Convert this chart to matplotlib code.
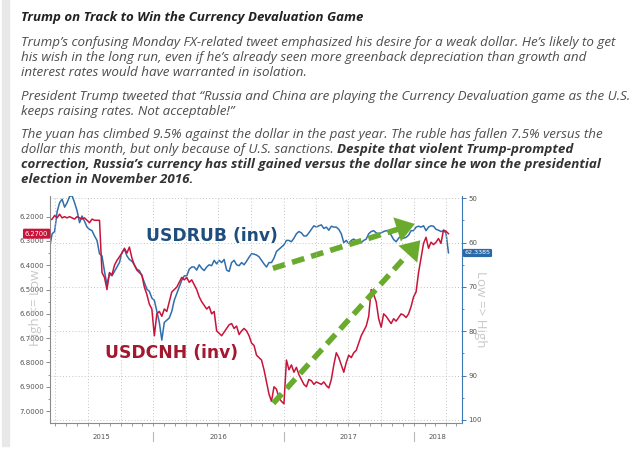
import matplotlib
matplotlib.use("Agg")
import matplotlib.pyplot as plt
import matplotlib.dates as mdates
import matplotlib.transforms as mtransforms
from matplotlib.patches import Rectangle
import numpy as np
import pandas as pd

# weekly closes (Mondays from 2015-03-16)
week_start = "2015-03-16"
n_weeks = 161

usdrub = [
    61.0, 58.0, 57.5, 53.0, 51.0, 50.2, 52.0, 51.0, 49.6, 49.4,
    51.0, 52.8, 55.5, 54.0, 55.2, 56.5, 57.0, 57.3, 58.5, 59.5,
    62.5, 63.0, 66.5, 69.5, 67.0, 67.5, 66.5, 65.5, 64.5, 62.2,
    61.5, 63.0, 63.8, 64.2, 65.0, 66.0, 66.3, 67.5, 69.0, 70.5,
    71.0, 72.5, 73.0, 75.5, 78.0, 82.0, 78.0, 77.5, 77.0, 75.5,
    73.0, 71.5, 70.0, 68.5, 67.5, 67.5, 66.0, 65.5, 65.5, 66.2,
    65.0, 65.8, 66.3, 65.5, 65.0, 65.2, 64.0, 64.8, 64.0, 64.5,
    63.8, 66.2, 66.5, 64.5, 64.0, 65.0, 65.2, 64.5, 65.0, 64.2,
    63.3, 62.5, 62.6, 62.8, 63.2, 64.0, 64.8, 65.5, 64.5, 64.5,
    63.5, 62.0, 61.5, 61.0, 60.5, 59.5, 59.5, 59.8, 59.0, 58.0,
    57.5, 57.8, 58.5, 58.5, 57.8, 57.0, 56.2, 56.5, 56.2, 56.0,
    56.8, 56.5, 57.2, 56.3, 56.5, 56.5, 57.0, 58.0, 60.0, 59.5,
    60.2, 59.5, 59.2, 59.6, 59.8, 60.0, 59.5, 59.2, 58.0, 57.5,
    57.3, 57.8, 58.0, 57.8, 57.5, 57.3, 57.5, 58.3, 59.3, 59.8,
    59.0, 58.5, 59.0, 58.8, 58.3, 57.3, 57.3, 56.5, 56.3, 56.5,
    56.2, 57.3, 56.5, 56.2, 56.3, 57.0, 57.2, 57.5, 57.3, 57.8, 62.3,
]

usdcnh = [
    6.215, 6.210, 6.195, 6.205, 6.190, 6.205, 6.200, 6.205, 6.200, 6.205,
    6.210, 6.200, 6.205, 6.210, 6.205, 6.215, 6.225, 6.210, 6.215, 6.215,
    6.215, 6.430, 6.450, 6.500, 6.430, 6.440, 6.400, 6.380, 6.365, 6.350,
    6.330, 6.350, 6.325, 6.370, 6.400, 6.420, 6.430, 6.440, 6.490, 6.520,
    6.560, 6.580, 6.690, 6.600, 6.590, 6.610, 6.580, 6.590, 6.550, 6.510,
    6.500, 6.490, 6.470, 6.450, 6.460, 6.450, 6.470, 6.460, 6.480, 6.500,
    6.530, 6.550, 6.565, 6.580, 6.570, 6.600, 6.590, 6.670, 6.680, 6.690,
    6.675, 6.660, 6.645, 6.640, 6.660, 6.650, 6.685, 6.670, 6.660, 6.670,
    6.690, 6.720, 6.730, 6.770, 6.780, 6.790, 6.830, 6.880, 6.930, 6.960,
    6.900, 6.910, 6.945, 6.960, 6.970, 6.790, 6.830, 6.810, 6.840, 6.820,
    6.850, 6.870, 6.890, 6.900, 6.870, 6.875, 6.890, 6.880, 6.885, 6.890,
    6.880, 6.895, 6.905, 6.870, 6.810, 6.760, 6.780, 6.810, 6.840, 6.800,
    6.770, 6.780, 6.760, 6.750, 6.720, 6.690, 6.670, 6.650, 6.610, 6.500,
    6.520, 6.550, 6.620, 6.655, 6.600, 6.610, 6.625, 6.640, 6.620, 6.630,
    6.615, 6.600, 6.605, 6.615, 6.600, 6.570, 6.530, 6.510, 6.430, 6.370,
    6.310, 6.285, 6.330, 6.305, 6.315, 6.305, 6.290, 6.310, 6.255, 6.260, 6.270,
]

rub_last = 62.3385
cnh_last = 6.2700

# green arrows: (start date, start value) -> (tip date, tip value)
arrow_rub = (("2016-12-02", 65.8), ("2018-01-12", 55.6))
arrow_cnh = (("2016-12-03", 6.968), ("2018-01-25", 6.289))

title = "Trump on Track to Win the Currency Devaluation Game"
para1 = [
    "Trump\u2019s confusing Monday FX-related tweet emphasized his desire for a weak dollar. He\u2019s likely to get",
    "his wish in the long run, even if he\u2019s already seen more greenback depreciation than growth and",
    "interest rates would have warranted in isolation.",
]
para2 = [
    "President Trump tweeted that \u201cRussia and China are playing the Currency Devaluation game as the U.S.",
    "keeps raising rates. Not acceptable!\u201d",
]
para3 = [
    ("The yuan has climbed 9.5% against the dollar in the past year. The ruble has fallen 7.5% versus the", ""),
    ("dollar this month, but only because of U.S. sanctions. ", "Despite that violent Trump-prompted"),
    ("", "correction, Russia\u2019s currency has still gained versus the dollar since he won the presidential"),
    ("", "election in November 2016."),
]

W, H = 640, 453
fig = plt.figure(figsize=(W / 100, H / 100), dpi=100)
fig.patch.set_facecolor("white")


def px(x, y):
    return x / W, 1 - y / H


# quote bar on the left
fig.patches.append(Rectangle(px(2, 446), 7 / W, 446 / H, transform=fig.transFigure,
                             color="#e8e8e8", zorder=0))

txt_font = "Open Sans"
renderer = fig.canvas.get_renderer()

# size the body so the widest line ends near x=632
widest = 0
for line in para1 + para2 + [p + b for p, b in para3]:
    probe = fig.text(0, 0, line, fontsize=10, style="italic", family=txt_font)
    widest = max(widest, probe.get_window_extent(renderer).width)
    probe.remove()
body_size = 10 * 610 / widest
title_size = 9.5
body_c = "#4d4d4d"

fig.text(*px(21, 16), title, fontsize=title_size, fontweight="bold", style="italic",
         family=txt_font, color="#222222", va="center_baseline")
for k, line in enumerate(para1):
    fig.text(*px(21, 41 + 15 * k), line, fontsize=body_size, style="italic",
             family=txt_font, color=body_c, va="center_baseline")
for k, line in enumerate(para2):
    fig.text(*px(21, 95 + 15 * k), line, fontsize=body_size, style="italic",
             family=txt_font, color=body_c, va="center_baseline")
for k, (plain, bold) in enumerate(para3):
    x0, y0 = px(21, 133 + 15 * k)
    if plain:
        t = fig.text(x0, y0, plain, fontsize=body_size, style="italic",
                     family=txt_font, color=body_c, va="center_baseline")
        x0 = t.get_window_extent(renderer).x1 / W
    if bold:
        fig.text(x0, y0, bold, fontsize=body_size, style="italic", fontweight="bold",
                 family=txt_font, color="#333333", va="center_baseline")

# chart
dates = pd.date_range(week_start, periods=n_weeks, freq="7D")
ax = fig.add_axes([50 / W, 1 - 423 / H, 412 / W, 227 / H])
ax2 = ax.twinx()
ax.set_zorder(ax2.get_zorder() + 1)
ax.patch.set_visible(False)

ax2.plot(dates, usdrub, color="#2f6fab", lw=1.1)
ax.plot(dates, usdcnh, color="#c8143a", lw=1.1)

ax.set_xlim(pd.Timestamp("2015-03-17"), pd.Timestamp("2018-05-17"))
ax.set_ylim(7.049, 6.115)
ax2.set_ylim(100.7, 49.48)

grid_kw = dict(color="#c4c4c4", lw=0.7, ls=(0, (1, 2.2)))
ax2.set_yticks(np.arange(50, 101, 10))
ax2.set_yticks(np.arange(55, 100, 10), minor=True)
ax2.yaxis.grid(True, **grid_kw)
ax.xaxis.set_minor_locator(mdates.MonthLocator())
for q in pd.date_range("2015-04-01", "2018-04-01", freq="QS"):
    ax.axvline(q, zorder=0, **grid_kw)

ax.set_yticks(np.arange(6.2, 7.01, 0.1))
ax.set_yticks(np.arange(6.25, 7.0, 0.1), minor=True)
ax.yaxis.set_major_formatter(plt.FormatStrFormatter("%.4f"))

# year labels centered in the visible part of each year
xl0, xl1 = ax.get_xlim()
year_pos, year_lab = [], []
for yr in [2015, 2016, 2017, 2018]:
    a = max(mdates.date2num(pd.Timestamp(f"{yr}-01-01")), xl0)
    b = min(mdates.date2num(pd.Timestamp(f"{yr + 1}-01-01")), xl1)
    year_pos.append((a + b) / 2)
    year_lab.append(str(yr))
ax.set_xticks(year_pos)
ax.set_xticklabels(year_lab)

tick_c = "#8a8a8a"
ax.tick_params(axis="x", which="major", length=0, pad=8, labelsize=5, labelcolor="#555555")
ax.tick_params(axis="x", which="minor", length=2, color=tick_c, width=0.6)
ax.tick_params(axis="y", which="major", length=3, color=tick_c, width=0.7,
               labelsize=5, labelcolor="#555555", pad=1.5)
ax.tick_params(axis="y", which="minor", length=1.5, color=tick_c, width=0.6)
ax2.tick_params(axis="y", which="major", length=3, color="#3b78b4", width=0.7,
                labelsize=5, labelcolor="#555555", pad=1.5)
ax2.tick_params(axis="y", which="minor", length=1.5, color="#3b78b4", width=0.6)

for s in ["top", "right"]:
    ax.spines[s].set_visible(False)
for s in ["top", "left", "bottom"]:
    ax2.spines[s].set_visible(False)
ax.spines["left"].set_color(tick_c)
ax.spines["bottom"].set_color(tick_c)
ax.spines["left"].set_linewidth(0.8)
ax.spines["bottom"].set_linewidth(0.8)
ax2.spines["right"].set_color("#3b78b4")
ax2.spines["right"].set_linewidth(0.8)

# year separators under the axis
sep_tr = mtransforms.blended_transform_factory(ax.transData, ax.transAxes)
for yr in [2016, 2017, 2018]:
    d = pd.Timestamp(f"{yr}-01-01")
    ax.plot([d, d], [-0.040, -0.080], transform=sep_tr, color="#b8b8b8",
            lw=0.8, clip_on=False)

# last value tags
ax.text(-0.004, cnh_last, f"{cnh_last:.4f}",
        transform=mtransforms.blended_transform_factory(ax.transAxes, ax.transData),
        ha="right", va="center", fontsize=4.8, color="white",
        bbox=dict(boxstyle="round,pad=0.3,rounding_size=0.2", fc="#c8143a", ec="none"))
ax2.text(1.006, rub_last, f"{rub_last:.4f}",
         transform=mtransforms.blended_transform_factory(ax2.transAxes, ax2.transData),
         ha="left", va="center", fontsize=4.6, color="white",
         bbox=dict(boxstyle="round,pad=0.25,rounding_size=0.2", fc="#2a69a8", ec="none"))

# side captions
fig.text(*px(36, 308), "High <= Low", rotation=90, fontsize=9.6, color="#c9c9c9",
         ha="center", va="center", family=txt_font)
fig.text(*px(480, 309), "Low => High", rotation=270, fontsize=9.6, color="#c9c9c9",
         ha="center", va="center", family=txt_font)

# series names
fig.text(*px(146, 236), "USDRUB (inv)", fontsize=12.3, fontweight="bold",
         color="#1f4e7e", va="center", family="DejaVu Sans")
fig.text(*px(105, 353), "USDCNH (inv)", fontsize=12.3, fontweight="bold",
         color="#a3182f", va="center", family="DejaVu Sans")

# green dashed arrows
green = "#6aab2e"


def dashed_arrow(axis, start, tip):
    x0 = mdates.date2num(pd.Timestamp(start[0]))
    x1 = mdates.date2num(pd.Timestamp(tip[0]))
    y0, y1 = start[1], tip[1]
    xb, yb = x0 + 0.90 * (x1 - x0), y0 + 0.90 * (y1 - y0)
    xh, yh = x0 + 0.86 * (x1 - x0), y0 + 0.86 * (y1 - y0)
    axis.plot([x0, xb], [y0, yb], color=green, lw=4.0, ls=(0, (2.3, 1.3)),
              solid_capstyle="butt", dash_capstyle="butt", zorder=5)
    axis.annotate("", xy=(x1, y1), xytext=(xh, yh),
                  arrowprops=dict(arrowstyle="-|>,head_length=1.1,head_width=0.75",
                                  color=green, lw=0.1, mutation_scale=12),
                  zorder=6)


dashed_arrow(ax2, *arrow_rub)
dashed_arrow(ax, *arrow_cnh)

fig.savefig("out.png", dpi=100)
